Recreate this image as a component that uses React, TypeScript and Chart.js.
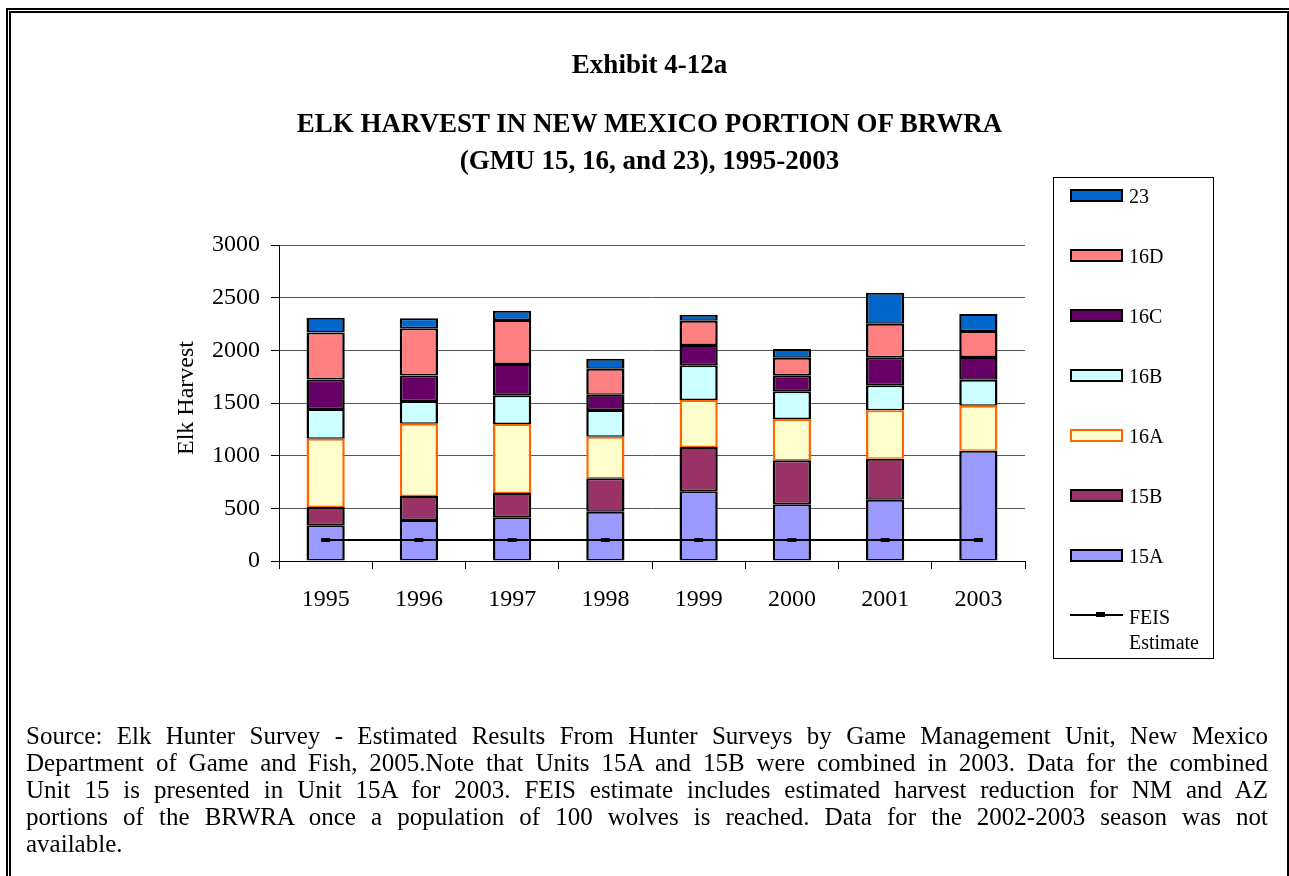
import React, { useEffect, useRef } from 'react';
import { Chart, registerables } from 'chart.js';

Chart.register(...registerables);

const categories = ['1995', '1996', '1997', '1998', '1999', '2000', '2001', '2003'];

const unit15A = [340, 390, 415, 468, 662, 538, 582, 1047];
const unit15B = [172, 228, 231, 317, 420, 418, 389, 0];
const unit16A = [648, 684, 655, 395, 447, 392, 460, 428];
const unit16B = [282, 218, 272, 254, 329, 263, 237, 246];
const unit16C = [282, 241, 297, 145, 193, 152, 266, 216];
const unit16D = [446, 449, 418, 247, 230, 167, 319, 247];
const unit23 = [139, 95, 88, 95, 58, 83, 294, 161];
const feisEstimate = [200, 200, 200, 200, 200, 200, 200, 200];

const yTicks = [0, 500, 1000, 1500, 2000, 2500, 3000];

const seriesNames = ['15A', '15B', '16A', '16B', '16C', '16D', '23'];
const seriesValues = [unit15A, unit15B, unit16A, unit16B, unit16C, unit16D, unit23];
const seriesFill = ['#9999FF', '#993366', '#FFFFCC', '#CCFFFF', '#660066', '#FF8080', '#0066CC'];
const seriesBorder = ['#000000', '#000000', '#FF6600', '#000000', '#000000', '#000000', '#000000'];

const lineName = 'FEIS Estimate';

const titleLines = ['ELK HARVEST IN NEW MEXICO PORTION OF BRWRA', '(GMU 15, 16, and 23), 1995-2003'];
const exhibitLabel = 'Exhibit 4-12a';
const yTitle = 'Elk Harvest';
const noteLines = [
  'Source: Elk Hunter Survey - Estimated Results From Hunter Surveys by Game Management Unit, New Mexico',
  'Department of Game and Fish, 2005.Note that Units 15A and 15B were combined in 2003. Data for the combined',
  'Unit 15 is presented in Unit 15A for 2003. FEIS estimate includes estimated harvest reduction for NM and AZ',
  'portions of the BRWRA once a population of 100 wolves is reached. Data for the 2002-2003 season was not',
  'available.',
];

const FONT = '"Liberation Serif", "Times New Roman", serif';

export default function App() {
  const canvasRef = useRef<HTMLCanvasElement | null>(null);

  useEffect(() => {
    if (!canvasRef.current) return;
    const barSets = seriesNames.map((name, i) => ({
      type: 'bar' as const,
      label: name,
      data: seriesValues[i],
      backgroundColor: seriesFill[i],
      borderColor: seriesBorder[i],
      borderWidth: { left: 2.5, right: 2.5, top: 2, bottom: 1.5 },
      borderSkipped: false as const,
      stack: 'units',
      barPercentage: 0.41,
      categoryPercentage: 1,
    }));
    const chart = new Chart(canvasRef.current, {
      type: 'bar',
      data: {
        labels: categories,
        datasets: [
          ...barSets,
          {
            type: 'line' as const,
            label: lineName,
            data: feisEstimate,
            borderColor: '#000000',
            backgroundColor: '#000000',
            borderWidth: 2,
            pointStyle: 'line',
            pointRadius: 4.5,
            pointBorderWidth: 4,
            pointBorderColor: '#000000',
            pointBackgroundColor: '#000000',
            stack: 'feis',
            order: -1,
            tension: 0,
          } as any,
        ],
      },
      options: {
        animation: false,
        responsive: false,
        maintainAspectRatio: false,
        layout: { padding: { left: 0, top: 245, right: 264, bottom: 265 } },
        plugins: {
          legend: { display: false },
          tooltip: { enabled: false },
          title: { display: false },
        },
        scales: {
          x: {
            stacked: true,
            offset: true,
            grid: {
              display: true,
              drawOnChartArea: false,
              drawTicks: true,
              tickLength: 8,
              color: '#000000',
              offset: true,
            },
            border: { display: true, color: '#000000', width: 1 },
            ticks: { font: { family: FONT, size: 24 }, color: '#000000', padding: 16 },
            afterFit: (s: any) => {
              s.height = 50;
            },
          },
          y: {
            stacked: true,
            min: yTicks[0],
            max: yTicks[yTicks.length - 1],
            afterBuildTicks: (s: any) => {
              s.ticks = yTicks.map((v) => ({ value: v }));
            },
            ticks: {
              font: { family: FONT, size: 24 },
              color: '#000000',
              padding: 11,
              callback: (v: any) => String(v),
            },
            grid: { color: '#555555', lineWidth: 1, tickColor: '#000000', tickLength: 8 },
            border: { display: true, color: '#000000', width: 1 },
            afterFit: (s: any) => {
              s.width = 279;
            },
          },
        },
      },
    });
    return () => chart.destroy();
  }, []);

  const legendItems = [...seriesNames.map((n, i) => i)].reverse();
  const legendTop = 195.7;
  const legendStep = 60;

  return (
    <div
      style={{
        position: 'absolute',
        left: 0,
        top: 0,
        width: 1289,
        height: 876,
        overflow: 'hidden',
        background: '#ffffff',
        fontFamily: FONT,
        color: '#000000',
      }}
    >
      <div style={{ position: 'absolute', left: 6, top: 8, width: 1300, height: 1000, border: '2px solid #000', boxSizing: 'border-box' }} />
      <div style={{ position: 'absolute', left: 9, top: 11, width: 1280, height: 1000, border: '2px solid #000', boxSizing: 'border-box' }} />
      <canvas ref={canvasRef} width={1289} height={876} style={{ position: 'absolute', left: 0, top: 0 }} />

      <div style={{ position: 'absolute', left: 0, width: 1299, top: 51, textAlign: 'center', fontWeight: 'bold', fontSize: 27, lineHeight: '27px' }}>
        {exhibitLabel}
      </div>
      {titleLines.map((t, i) => (
        <div
          key={t}
          style={{ position: 'absolute', left: 0, width: 1299, top: 110 + i * 37, textAlign: 'center', fontWeight: 'bold', fontSize: 27, lineHeight: '27px', whiteSpace: 'nowrap' }}
        >
          {t}
        </div>
      ))}

      <div
        style={{
          position: 'absolute',
          left: 185,
          top: 398,
          transform: 'translate(-50%, -50%) rotate(-90deg)',
          fontSize: 24,
          lineHeight: '24px',
          whiteSpace: 'nowrap',
        }}
      >
        {yTitle}
      </div>

      <div style={{ position: 'absolute', left: 1053, top: 177, width: 161, height: 482, border: '1px solid #000', boxSizing: 'border-box' }} />
      {legendItems.map((idx, k) => {
        const cy = legendTop + k * legendStep;
        return (
          <React.Fragment key={seriesNames[idx]}>
            <div
              style={{
                position: 'absolute',
                left: 1070,
                top: cy - 6.5,
                width: 53,
                height: 13,
                background: seriesFill[idx],
                border: `2px solid ${seriesBorder[idx]}`,
                boxSizing: 'border-box',
              }}
            />
            <div style={{ position: 'absolute', left: 1129, top: cy - 10, fontSize: 20, lineHeight: '20px', whiteSpace: 'nowrap' }}>
              {seriesNames[idx]}
            </div>
          </React.Fragment>
        );
      })}
      {(() => {
        const cy = legendTop + 7 * legendStep - 1;
        return (
          <>
            <div style={{ position: 'absolute', left: 1070, top: cy - 1, width: 53, height: 2, background: '#000' }} />
            <div style={{ position: 'absolute', left: 1096, top: cy - 2.5, width: 9, height: 5, background: '#000' }} />
            <div style={{ position: 'absolute', left: 1129, top: cy - 10, fontSize: 20, lineHeight: '25px', whiteSpace: 'nowrap' }}>
              FEIS
              <br />
              Estimate
            </div>
          </>
        );
      })()}

      <div style={{ position: 'absolute', left: 26, top: 722, width: 1242, fontSize: 25, lineHeight: '27px' }}>
        {noteLines.map((l, i) => (
          <div
            key={i}
            style={{
              textAlign: i < noteLines.length - 1 ? 'justify' : 'left',
              textAlignLast: i < noteLines.length - 1 ? 'justify' : 'left',
              whiteSpace: 'normal',
            }}
          >
            {l}
          </div>
        ))}
      </div>
    </div>
  );
}
